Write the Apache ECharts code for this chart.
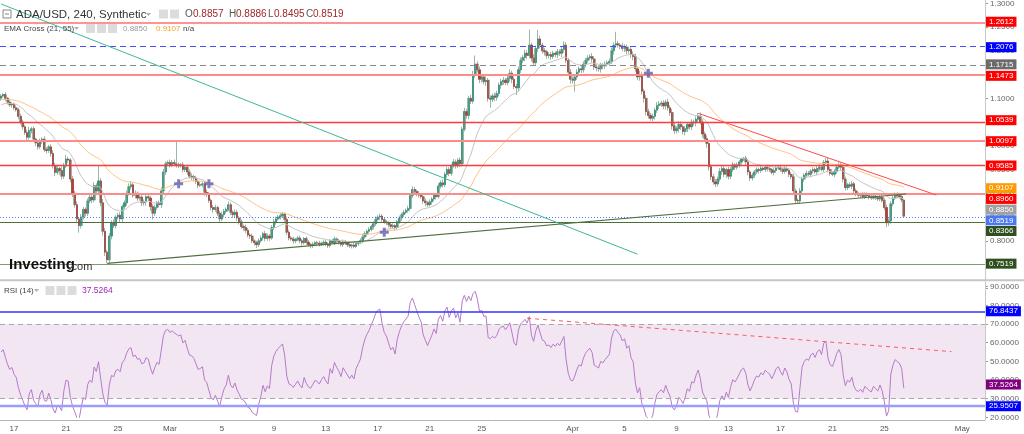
<!DOCTYPE html>
<html><head><meta charset="utf-8">
<script src="https://cdn.jsdelivr.net/npm/echarts@6/dist/echarts.min.js"></script>
<style>html,body{margin:0;padding:0;background:#fff}#c{width:1024px;height:434px}</style>
</head><body><div id="c"></div>
<script>
// ---------------- data ----------------
const firstBarUTC = [2022, 1, 16, 0];   // 16 Feb 2022 00:00, 4-hour bars
const slotCount = 455;                  // visible 4h slots incl. empty future
const firstOpen = 1.100;
const closes = [
1.105,1.108,1.100,1.092,1.086,1.088,1.080,1.076,1.062,1.050,
1.040,1.028,1.018,1.032,1.036,1.014,1.006,0.998,1.010,1.014,
0.992,0.990,0.998,0.984,0.958,0.944,0.952,0.948,0.936,0.958,
0.972,0.970,0.930,0.900,0.876,0.846,0.832,0.850,0.866,0.858,
0.884,0.892,0.886,0.916,0.905,0.926,0.880,0.820,0.776,0.760,
0.810,0.838,0.832,0.850,0.854,0.846,0.872,0.880,0.900,0.914,
0.918,0.896,0.900,0.890,0.892,0.880,0.882,0.893,0.890,0.872,
0.858,0.870,0.880,0.876,0.905,0.945,0.962,0.965,0.960,0.965,
0.962,0.960,0.958,0.960,0.950,0.955,0.945,0.936,0.935,0.932,
0.925,0.917,0.918,0.920,0.902,0.898,0.885,0.870,0.866,0.870,
0.858,0.846,0.855,0.862,0.866,0.876,0.860,0.855,0.860,0.848,
0.840,0.830,0.828,0.822,0.812,0.810,0.800,0.796,0.792,0.800,
0.806,0.815,0.805,0.810,0.806,0.828,0.840,0.846,0.850,0.853,
0.856,0.845,0.818,0.806,0.804,0.800,0.803,0.806,0.800,0.796,
0.805,0.797,0.792,0.790,0.793,0.796,0.795,0.792,0.795,0.797,
0.793,0.790,0.800,0.796,0.804,0.800,0.797,0.792,0.798,0.795,
0.792,0.789,0.791,0.788,0.794,0.797,0.800,0.808,0.815,0.820,
0.824,0.830,0.836,0.845,0.850,0.852,0.845,0.840,0.838,0.834,
0.830,0.832,0.828,0.840,0.848,0.855,0.860,0.864,0.868,0.895,
0.908,0.904,0.900,0.896,0.893,0.884,0.880,0.876,0.882,0.888,
0.896,0.893,0.915,0.922,0.918,0.940,0.950,0.942,0.958,0.966,
0.958,0.970,0.962,1.035,1.072,1.064,1.100,1.094,1.150,1.172,
1.160,1.140,1.145,1.135,1.138,1.100,1.098,1.105,1.102,1.110,
1.128,1.135,1.138,1.133,1.142,1.153,1.140,1.125,1.122,1.160,
1.180,1.186,1.195,1.190,1.212,1.185,1.175,1.205,1.225,1.212,
1.200,1.198,1.190,1.192,1.188,1.195,1.192,1.198,1.195,1.203,
1.212,1.180,1.155,1.140,1.138,1.145,1.155,1.162,1.160,1.172,
1.180,1.185,1.188,1.183,1.166,1.164,1.162,1.170,1.168,1.172,
1.175,1.178,1.200,1.212,1.215,1.212,1.210,1.205,1.208,1.200,
1.203,1.192,1.188,1.162,1.145,1.150,1.115,1.100,1.072,1.064,
1.058,1.062,1.075,1.085,1.088,1.090,1.084,1.092,1.080,1.070,
1.042,1.032,1.036,1.045,1.040,1.030,1.036,1.045,1.040,1.050,
1.048,1.056,1.062,1.050,1.025,1.015,1.005,0.956,0.935,0.924,
0.920,0.930,0.946,0.952,0.940,0.950,0.936,0.950,0.960,0.955,
0.960,0.966,0.972,0.974,0.966,0.945,0.932,0.938,0.945,0.950,
0.948,0.953,0.950,0.955,0.952,0.950,0.944,0.948,0.953,0.955,
0.950,0.946,0.952,0.948,0.940,0.935,0.905,0.885,0.884,0.905,
0.930,0.938,0.942,0.940,0.947,0.950,0.945,0.952,0.955,0.950,
0.965,0.968,0.950,0.942,0.940,0.946,0.955,0.960,0.955,0.930,
0.912,0.918,0.915,0.920,0.905,0.898,0.896,0.898,0.893,0.898,
0.895,0.892,0.890,0.894,0.891,0.888,0.892,0.885,0.870,0.838,
0.842,0.878,0.890,0.898,0.895,0.893,0.8857,0.8519];
// upper / lower wick lengths, in 0.001
const upWick = [
4,3,5,3,6,4,3,5,4,6, 5,4,6,8,4,5,3,6,5,4, 6,5,4,5,7,6,5,4,8,6, 9,5,4,6,5,7,4,6,5,4,
5,6,4,7,5,31,6,8,7,5, 6,5,7,4,5,6,4,5,6,7, 8,5,6,4,5,6,5,4,6,5, 5,6,4,5,7,6,5,4,6,5,
6,46,5,4,6,5,4,5,6,4, 5,4,6,5,4,6,5,4,5,6, 4,5,6,5,4,7,5,4,6,5, 4,5,4,6,5,4,5,3,4,5,
5,4,6,5,4,5,6,5,4,6, 5,4,6,5,4,5,3,4,5,4, 3,4,5,3,4,3,4,5,3,4, 5,4,3,4,5,3,4,3,5,4,
3,4,3,5,4,3,5,7,5,4, 5,4,5,6,4,5,4,5,4,3, 4,5,3,4,5,4,5,4,6,5, 7,5,4,5,4,6,5,4,5,4,
5,4,6,5,7,5,6,5,4,6, 5,4,6,5,8,6,5,7,8,18, 6,7,5,6,8,5,6,5,7,6, 5,6,7,5,6,8,5,6,5,7,
6,5,7,6,33,5,8,6,19,7, 5,6,4,5,6,5,4,6,5,7, 8,6,5,7,6,5,6,5,7,6, 5,6,5,7,6,5,6,5,4,6,
5,6,7,6,25,6,5,7,6,5, 6,5,7,6,5,8,6,5,7,6, 5,6,5,7,6,5,6,5,7,6, 8,6,5,7,6,5,6,5,4,6,
5,6,7,8,6,5,7,6,5,6, 6,5,7,6,5,4,6,5,6,4, 5,4,3,2,5,6,4,5,4,5, 4,5,3,4,5,4,3,5,4,4,
5,4,5,4,3,5,6,5,4,6, 5,4,6,5,4,5,4,5,6,4, 5,6,7,5,4,5,6,5,4,6, 5,4,5,6,4,5,4,3,5,4,
4,3,5,4,3,4,5,4,5,6, 5,6,5,4,5,6,4,2.9];
const dnWick = [
5,4,6,5,4,6,5,4,6,5, 6,5,7,5,6,5,7,6,5,6, 5,6,5,7,6,8,5,9,7,6, 5,6,7,8,6,7,15,6,5,7,
6,5,7,5,6,8,7,9,8,7, 6,7,5,6,5,7,6,5,6,5, 6,5,7,6,5,7,6,8,6,9, 13,6,5,6,7,5,6,5,6,5,
5,6,5,4,6,5,6,5,7,6, 5,6,4,5,7,6,5,6,7,5, 6,7,5,6,5,4,6,7,5,6, 6,5,7,6,5,6,5,6,7,5,
4,5,6,5,6,4,5,6,4,5, 4,5,6,5,4,6,5,4,5,6, 4,5,4,6,5,4,5,4,3,5, 4,5,4,3,5,4,5,4,5,4,
5,4,5,4,3,5,4,5,4,6, 5,4,6,5,4,6,5,4,5,6, 5,4,6,5,4,6,5,4,5,6, 5,4,6,5,4,6,7,5,4,6,
5,6,4,5,6,5,7,6,5,4, 6,5,7,6,5,7,8,6,5,7, 6,8,7,6,9,7,18,6,8,7, 6,8,7,5,6,7,8,6,15,8,
7,6,8,7,6,8,7,6,8,7, 6,8,7,6,7,5,6,7,6,8, 7,6,8,9,7,24,6,8,7,6, 7,6,5,8,6,7,6,8,7,6,
5,7,6,8,6,5,7,6,8,7, 6,7,8,6,7,8,7,9,8,7, 5,6,7,6,8,6,7,8,6,7, 8,7,6,8,7,6,8,7,6,7,
6,7,6,5,8,7,9,8,7,6, 7,6,5,7,6,8,7,6,5,6, 5,6,5,4,6,7,6,5,6,5, 6,5,4,5,6,5,4,6,5,4,
5,6,5,4,6,5,7,6,5,6, 5,6,5,4,6,5,4,6,5,4, 5,4,6,5,4,6,5,4,6,7, 6,5,4,6,5,4,5,6,4,5,
4,5,4,3,5,4,5,4,6,9, 7,6,5,4,5,4,5,2.4];
// indicator starting values read at the left edge
const ema21Seed = 1.086, ema55Seed = 1.097, rsiSeed = 55;
// horizontal levels (main panel)
const levelValues = [1.2612, 1.2076, 1.1715, 1.1473, 1.0539, 1.0097, 0.9585, 0.8960, 0.8519, 0.8366, 0.7519];
const emaLastValues = [0.8850, 0.9107];          // EMA21, EMA55 shown in legend
const rsiLevels = [76.8437, 25.9507];
const rsiLast = 37.5264;
// drawn trend lines: [startBar, startValue, endBar, endValue]
const tealLine  = [0, 1.2985, 294, 0.7718];
const greenLine = [49, 0.7525, 418, 0.8985];
const redLine   = [322, 1.0684, 432, 0.8964];
const rsiTrend  = [243, 73.1, 439, 55.2];
// EMA cross markers
const crossBars = [82, 96, 177, 299];
const crossValues = [0.920, 0.920, 0.818, 1.1526];
// x tick labels
const tickDates  = ['02-17','02-21','02-25','03-01','03-05','03-09','03-13','03-17','03-21','03-25','04-01','04-05','04-09','04-13','04-17','04-21','04-25','05-01'];
const tickLabels = ['17','21','25','Mar','5','9','13','17','21','25','Apr','5','9','13','17','21','25','May'];
const header = {sym:'ADA/USD, 240, Synthetic', o:'0.8857', h:'0.8886', l:'0.8495', c:'0.8519'};

// ---------------- build ----------------
const FONT = 'Liberation Sans, Arial, sans-serif';
const t0 = Date.UTC(...firstBarUTC);
const cats = [];
for (let i = 0; i < slotCount; i++) cats.push(new Date(t0 + i * 4 * 3600e3).toISOString().slice(0, 13));
const tickSet = {}; tickDates.forEach((d, k) => tickSet[d] = tickLabels[k]);
const isTick = (idx, val) => val.endsWith('T00') && tickSet[val.slice(5, 10)] !== undefined;
const labelOf = (val) => (val.endsWith('T00') && tickSet[val.slice(5, 10)]) || '';

const ohlc = closes.map((c, i) => {
  const o = i ? closes[i - 1] : firstOpen;
  return [o, c, Math.min(o, c) - dnWick[i] / 1000, Math.max(o, c) + upWick[i] / 1000];
});
const bodies = ohlc.map(([o, c]) => [o, c, Math.min(o, c), Math.max(o, c)]);

function ema(seed, n) {
  const k = 2 / (n + 1), out = []; let e = seed;
  closes.forEach((c, i) => { if (i) e = e + k * (c - e); out.push(+e.toFixed(5)); });
  return out;
}
const ema21 = ema(ema21Seed, 21), ema55 = ema(ema55Seed, 55);

const rsi = (function () {
  let m = 0; for (let k = 1; k <= 14; k++) m += Math.abs(closes[k] - closes[k - 1]); m /= 14;
  let g = m * rsiSeed / 100, l = m * (1 - rsiSeed / 100);
  const out = [rsiSeed];
  for (let i = 1; i < closes.length; i++) {
    const d = closes[i] - closes[i - 1];
    g = (g * 13 + Math.max(d, 0)) / 14; l = (l * 13 + Math.max(-d, 0)) / 14;
    out.push(+(100 - 100 / (1 + g / l)).toFixed(3));
  }
  return out;
})();

const S = 'solid';
const levelStyles = [
  {color:'#ff6e6e', width:1.6, type:S}, {color:'#4b4bff', width:1, type:[6,4]}, {color:'#8a8a8a', width:1, type:[6,4]},
  {color:'#ff8a8a', width:2, type:S}, {color:'#ff3a3a', width:1.4, type:S}, {color:'#ff8a8a', width:2, type:S}, {color:'#ff3a3a', width:1.4, type:S},
  {color:'#ff8a8a', width:2, type:S}, {color:'#4d7dff', width:1, type:[1,2]}, {color:'#4e6e3e', width:1.2, type:S}, {color:'#7d9a70', width:1.2, type:S}
];
const seg = (a, style) => [{coord:[a[0], a[1]], lineStyle:style}, {coord:[a[2], a[3]]}];

const chart = echarts.init(document.getElementById('c'));
chart.setOption({
  animation: false,
  backgroundColor: '#ffffff',
  grid: [
    {left:0, right:39, top:3.3, height:285, outerBoundsMode:'none'},
    {left:0, right:39, top:286.7, height:130.6, outerBoundsMode:'none'}
  ],
  xAxis: [
    {type:'category', gridIndex:0, data:cats, boundaryGap:true, show:false},
    {type:'category', gridIndex:1, data:cats, boundaryGap:true, offset:3,
     axisLine:{lineStyle:{color:'#b4b4b4', width:1}},
     axisTick:{alignWithLabel:true, interval:isTick, length:2, lineStyle:{color:'#888'}},
     axisLabel:{interval:isTick, formatter:labelOf, fontSize:8, color:'#555', margin:4, fontFamily:FONT}}
  ],
  yAxis: [
    {type:'value', gridIndex:0, position:'right', min:0.70, max:1.30, interval:0.05,
     splitLine:{show:false}, axisLine:{show:false},
     axisTick:{show:true, length:3, lineStyle:{color:'#999'}},
     axisLabel:{fontSize:8, color:'#666', margin:5, fontFamily:FONT, formatter:v => v < 0.72 ? '' : v.toFixed(4)}},
    {type:'value', gridIndex:1, position:'right', min:20, max:90, interval:10,
     splitLine:{show:false}, axisLine:{show:false},
     axisTick:{show:true, length:3, lineStyle:{color:'#999'}},
     axisLabel:{fontSize:8, color:'#666', margin:5, fontFamily:FONT, formatter:v => v.toFixed(4)}}
  ],
  series: [
    {type:'candlestick', name:'wick', xAxisIndex:0, yAxisIndex:0, data:ohlc, barWidth:2.2, silent:true,
     itemStyle:{color:'#b7cbbf', color0:'#b7cbbf', borderColor:'#9cb6a7', borderColor0:'#9cb6a7', borderWidth:1}},
    {type:'candlestick', name:'body', xAxisIndex:0, yAxisIndex:0, data:bodies, barWidth:1.6, silent:true,
     itemStyle:{color:'#22a084', color0:'#c0392f', borderColor:'#1c7a64', borderColor0:'#8a2424', borderWidth:0.4}},
    {type:'line', name:'EMA21', xAxisIndex:0, yAxisIndex:0, data:ema21, symbol:'none', silent:true,
     lineStyle:{color:'#c4c4c4', width:1}},
    {type:'line', name:'EMA55', xAxisIndex:0, yAxisIndex:0, data:ema55, symbol:'none', silent:true,
     lineStyle:{color:'#ffc285', width:1},
     markLine:{silent:true, symbol:['none','none'], label:{show:false}, lineStyle:{type:'solid'},
       data: levelValues.map((v, i) => ({yAxis:v, lineStyle:levelStyles[i]})).concat([
         seg(tealLine, {color:'#3db89a', width:1, type:S}),
         seg(greenLine, {color:'#50703f', width:1.2, type:S}),
         seg(redLine, {color:'#ff4a4a', width:1, type:S})
       ])}},
    {type:'scatter', name:'cross', xAxisIndex:0, yAxisIndex:0, silent:true,
     data: crossBars.map((b, i) => [b, crossValues[i]]),
     symbol:'path://M3,0H6V3H9V6H6V9H3V6H0V3H3Z', symbolSize:9, itemStyle:{color:'#5f5fae'}, z:5},
    {type:'line', name:'RSI', xAxisIndex:1, yAxisIndex:1, data:rsi, symbol:'none', silent:true,
     lineStyle:{color:'#b57ac9', width:1},
     markArea:{silent:true, itemStyle:{color:'#f3e6f3'}, data:[[{yAxis:30},{yAxis:70}]]},
     markLine:{silent:true, symbol:['none','none'], label:{show:false}, lineStyle:{type:'solid'},
       data:[
         {yAxis:70, lineStyle:{color:'#aaaaaa', width:1, type:[5,4]}},
         {yAxis:30, lineStyle:{color:'#aaaaaa', width:1, type:[5,4]}},
         {yAxis:rsiLevels[0], lineStyle:{color:'#3333ff', width:1.5, type:S}},
         {yAxis:rsiLevels[1], lineStyle:{color:'#9c9cff', width:2.4, type:S}},
         seg(rsiTrend, {color:'#ff5a5a', width:1, type:[4,4]})
       ]}}
  ]
});

// ---------------- overlay: right-side value tags, headers ----------------
function tags(list, axisIndex) {
  const items = list.map(t => ({...t, y: chart.convertToPixel({yAxisIndex:axisIndex}, t.v)})).sort((a, b) => a.y - b.y);
  let prev = -1e9;
  return items.map(t => {
    const y = Math.max(t.y, prev + 10.7); prev = y;
    return {type:'text', z:100, style:{text:t.v.toFixed(4), x:986, y:y, font:'8px ' + FONT, fill:'#fff',
      backgroundColor:t.bg, padding:[1,3,1,3], verticalAlign:'middle', align:'left'}};
  });
}
const levelTagColors = ['#ff0000','#0000ff','#6b6b6b','#ff0000','#ff0000','#ff0000','#ff0000','#ff0000','#4a78f0','#2f4f1f','#2f4f1f'];
const mainTags = levelValues.map((v, i) => ({v, bg:levelTagColors[i]}))
  .concat([{v:emaLastValues[0], bg:'#a0a0a0'}, {v:emaLastValues[1], bg:'#ff9a00'}]);
const rsiTags = [{v:rsiLevels[0], bg:'#0000ff'}, {v:rsiLast, bg:'#800080'}, {v:rsiLevels[1], bg:'#0000ff'}];

const txt = (s, x, y, size, fill, weight) => ({type:'text', z:100, style:{text:s, x, y, font:(weight||'normal') + ' ' + size + 'px ' + FONT, fill, verticalAlign:'middle'}});
const icon = (x, y) => ({type:'rect', z:100, shape:{x, y, width:9, height:9}, style:{fill:'#dcdcdc'}});
const caret = (x, y) => ({type:'polygon', z:100, shape:{points:[[x, y], [x + 5, y], [x + 2.5, y + 3]]}, style:{fill:'#b0b0b0'}});

const graphic = [
  {type:'rect', z:90, shape:{x:0, y:279.3, width:1024, height:2}, style:{fill:'#c6c6c6'}},
  {type:'line', z:90, shape:{x1:985.5, y1:0, x2:985.5, y2:420}, style:{stroke:'#c8c8c8', lineWidth:1}},
  // header line 1
  {type:'rect', z:100, shape:{x:3, y:10, width:8, height:8}, style:{fill:'#fff', stroke:'#888', lineWidth:1}},
  {type:'line', z:100, shape:{x1:5, y1:14, x2:9, y2:14}, style:{stroke:'#888', lineWidth:1}},
  txt(header.sym, 16, 14.5, 11.5, '#333'),
  caret(146, 13), icon(159, 9.5), icon(170, 9.5),
  txt('O', 185, 14.5, 10, '#555'), txt(header.o, 193, 14.5, 10, '#a02828'),
  txt('H', 229, 14.5, 10, '#555'), txt(header.h, 236, 14.5, 10, '#a02828'),
  txt('L', 268, 14.5, 10, '#555'), txt(header.l, 274, 14.5, 10, '#a02828'),
  txt('C', 306, 14.5, 10, '#555'), txt(header.c, 313, 14.5, 10, '#a02828'),
  // header line 2
  txt('EMA Cross (21, 55)', 4, 28.5, 8, '#444'),
  caret(74, 27), icon(86, 24), icon(97, 24), icon(108, 24),
  txt(emaLastValues[0].toFixed(4), 123, 28.5, 8, '#999'),
  txt(emaLastValues[1].toFixed(4), 156, 28.5, 8, '#f5a020'),
  txt('n/a', 183, 28.5, 8, '#444'),
  // RSI header
  txt('RSI (14)', 4, 290.5, 8, '#444'),
  caret(34, 289), icon(45.5, 286), icon(56.5, 286), icon(67.5, 286),
  txt(rsiLast.toFixed(4), 82, 290.5, 8.5, '#9c27b0'),
  // logo
  txt('Investing', 9, 265, 15, '#111', 'bold'),
  txt('.com', 68.5, 266.5, 11, '#333')
].concat(tags(mainTags, 0), tags(rsiTags, 1));
chart.setOption({graphic});
</script></body></html>
